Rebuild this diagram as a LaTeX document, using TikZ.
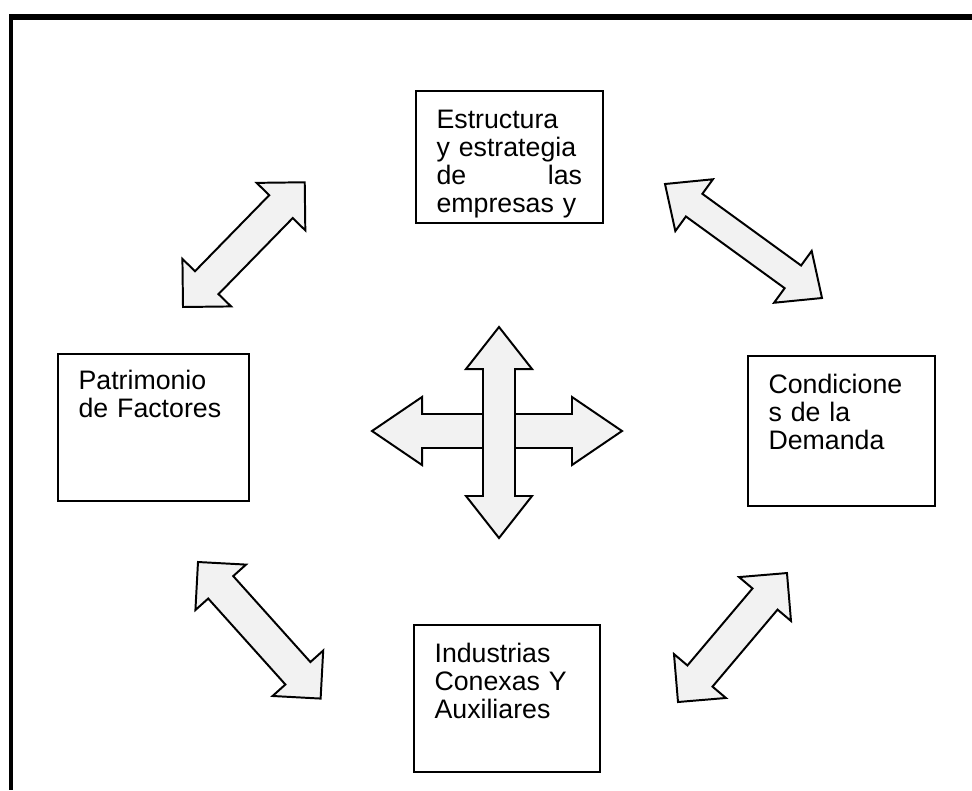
\documentclass[tikz,border=0pt]{standalone}
\usepackage{fontspec}
\setmainfont{Liberation Sans}
\usetikzlibrary{calc}

% block arrow with a head at both ends: from, to, head length, head half width, shaft half width
\newcommand{\twoway}[5]{%
  \draw[blockarrow] let \p1=(#1), \p2=(#2),
      \n1={atan2(\y2-\y1,\x2-\x1)}, \n2={veclen(\x2-\x1,\y2-\y1)} in
    [shift={(\p1)}, rotate=\n1]
    (0pt,0pt) -- (#3,#4) -- (#3,#5) -- ({\n2-#3},#5) -- ({\n2-#3},#4)
    -- (\n2,0pt) -- ({\n2-#3},-#4) -- ({\n2-#3},-#5) -- (#3,-#5) -- (#3,-#4) -- cycle;
}

\begin{document}
\begin{tikzpicture}[x=0.025cm, y=-0.025cm,
    box/.style={rectangle, draw=black, line width=1.1pt, anchor=north west, align=left,
      inner xsep=0.52cm, inner ysep=0pt, font=\fontsize{19}{19.9}\selectfont},
    blockarrow/.style={draw=black, line width=1.4pt, fill=gray!10, line join=miter}
]
\useasboundingbox (0,0) rectangle (972,790);
% frame
\draw[line width=4.5pt] (9,17) -- (972,17);
\draw[line width=3pt] (11,14) -- (11,790);

% boxes
\node[box, text width=3.635cm, text height=0.95cm, text depth=2.35cm] (estructura) at (415,90)
  {Estructura\\ y estrategia\\ de\hfill las\\ empresas y};
\node[box, text width=3.735cm, text height=0.9cm, text depth=2.775cm] (patrimonio) at (57,353)
  {Patrimonio\\ de Factores};
\node[box, text width=3.635cm, text height=0.95cm, text depth=2.8cm] (demanda) at (747,355)
  {Condicione\\ s de la\\ Demanda};
\node[box, text width=3.61cm, text height=0.95cm, text depth=2.725cm] (industrias) at (413,624)
  {Industrias\\ Conexas Y\\ Auxiliares};

% arrow ends
\coordinate (nw-a) at (183,307);  \coordinate (nw-b) at (305,182);
\coordinate (ne-a) at (665,184);  \coordinate (ne-b) at (822,298);
\coordinate (sw-a) at (198,562);  \coordinate (sw-b) at (321,699);
\coordinate (se-a) at (678,702);  \coordinate (se-b) at (787,573);
\coordinate (left) at (372,431);  \coordinate (right) at (622,431);
\coordinate (down) at (499,538);  \coordinate (up) at (499,327);

\twoway{nw-a}{nw-b}{0.85cm}{0.85cm}{0.41cm}
\twoway{ne-a}{ne-b}{0.9cm}{0.8cm}{0.35cm}
\twoway{sw-a}{sw-b}{0.85cm}{0.85cm}{0.42cm}
\twoway{se-a}{se-b}{0.85cm}{0.85cm}{0.41cm}

% centre cross
\twoway{left}{right}{1.25cm}{0.85cm}{0.425cm}
\twoway{down}{up}{1.05cm}{0.825cm}{0.4cm}
\end{tikzpicture}
\end{document}
